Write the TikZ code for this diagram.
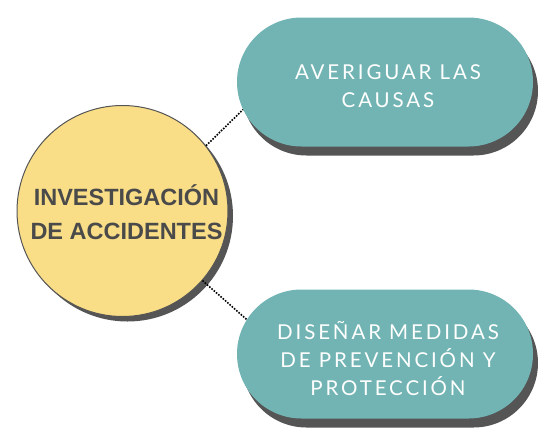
\documentclass[tikz,border=0pt]{standalone}
\usepackage{fontspec}
\usetikzlibrary{shapes.misc,shadows}
\newfontfamily\boldfont{Liberation Sans}[UprightFont=* Bold]
\newfontfamily\pillfont{Lato}[LetterSpace=14]
\definecolor{teal1}{HTML}{72B4B3}
\definecolor{yell1}{HTML}{F9DE87}
\definecolor{shad1}{HTML}{555555}
\definecolor{txt1}{HTML}{4A4A4A}
\tikzset{
  hub/.style={circle, minimum size=211pt, inner sep=0pt, fill=yell1, draw=shad1, line width=1pt,
    drop shadow={shadow xshift=5pt, shadow yshift=-5pt, opacity=1, fill=shad1}},
  pill/.style={rounded rectangle, minimum width=296pt, minimum height=129pt, inner sep=0pt, fill=teal1,
    drop shadow={shadow xshift=5pt, shadow yshift=-9pt, opacity=1, fill=shad1}},
  hubtext/.style={align=center, text=txt1, font=\boldfont\fontsize{23.5}{34}\selectfont},
  pilltext/.style={align=center, text=white, font=\pillfont\fontsize{20.5}{28}\selectfont},
  link/.style={line width=1.6pt, dash pattern=on 1.6pt off 1.4pt, black}
}
\begin{document}
\begin{tikzpicture}[x=1pt,y=-1pt]
\useasboundingbox (0,0) rectangle (554,445);
\node[hub] (c) at (122.5,211) {};
\node[pill] (p1) at (385,82) {};
\node[pill] (p2) at (385,354) {};
\node[hubtext] (tc) at (126.5,212) {INVESTIGACIÓN\\DE ACCIDENTES};
\node[pilltext] (t1) at (388,86) {AVERIGUAR LAS\\CAUSAS};
\node[pilltext] (t2) at (388,359) {DISEÑAR MEDIDAS\\DE PREVENCIÓN Y\\PROTECCIÓN};
\draw[link] (c.38) -- (p1.191);
\draw[link] (c.-41) -- (p2.166);
\end{tikzpicture}
\end{document}
